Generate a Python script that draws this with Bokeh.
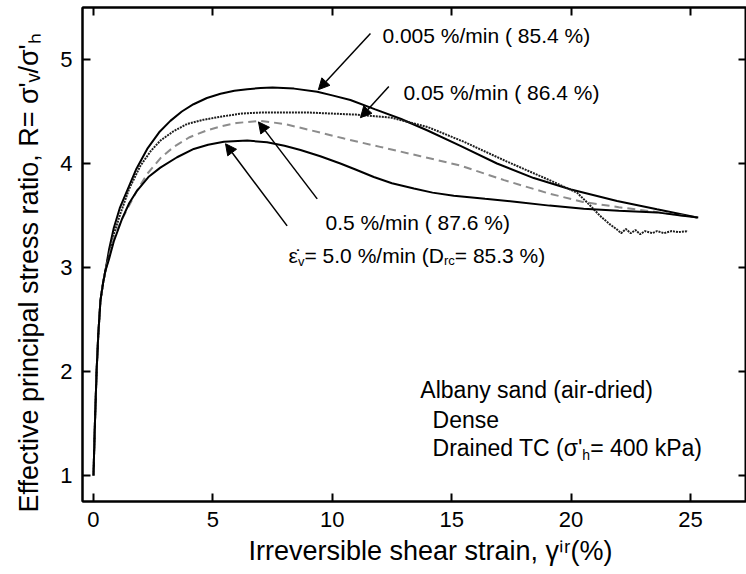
import math
from bokeh.plotting import figure
from bokeh.models import Range1d, LinearAxis, FixedTicker, Label, Arrow, NormalHead, Title
from bokeh.embed import file_html
from bokeh.resources import INLINE

# ---------------- data ----------------
x_ticks = [0, 5, 10, 15, 20, 25]
y_ticks = [1, 2, 3, 4, 5]

# 0.005 %/min (solid, top)
strain_0005 = [0, 0.06, 0.13, 0.2, 0.29, 0.4, 0.5, 0.65, 0.85, 1.1, 1.41, 1.8, 2.25, 2.75, 3.22,
               3.7, 4.19, 4.75, 5.32, 5.9, 6.44, 7.0, 7.5, 8.4, 9.37, 10.0, 10.76, 11.8, 12.86,
               13.97, 15.37, 16.9, 18.44, 20.0, 21.93, 23.6, 25.28]
ratio_0005 = [1.0, 1.5, 2.0, 2.35, 2.68, 2.85, 2.97, 3.17, 3.38, 3.57, 3.74, 3.95, 4.14, 4.3, 4.41,
              4.5, 4.57, 4.63, 4.67, 4.7, 4.715, 4.725, 4.73, 4.72, 4.69, 4.655, 4.61, 4.52, 4.43,
              4.32, 4.17, 4.0, 3.86, 3.75, 3.64, 3.56, 3.48]

# 0.05 %/min (dotted)
strain_005 = [0, 0.06, 0.13, 0.2, 0.29, 0.4, 0.5, 0.65, 0.85, 1.13, 1.5, 1.97, 2.4, 2.8, 3.35,
              3.92, 4.6, 5.32, 6.2, 7.0, 9.0, 11.0, 12.5, 14.0, 15.5, 17.3, 19.1, 20.25, 20.7,
              21.2, 21.6, 21.9, 22.1, 22.3, 22.5, 22.7, 22.9, 23.1, 23.4, 23.6, 23.9, 24.2,
              24.5, 24.9]
ratio_005 = [1.0, 1.5, 2.0, 2.35, 2.68, 2.85, 2.97, 3.13, 3.32, 3.52, 3.76, 3.98, 4.12, 4.22, 4.31,
             4.38, 4.42, 4.45, 4.48, 4.49, 4.49, 4.47, 4.44, 4.35, 4.21, 4.02, 3.84, 3.72, 3.62,
             3.5, 3.42, 3.37, 3.33, 3.37, 3.33, 3.36, 3.32, 3.35, 3.33, 3.35, 3.33, 3.35,
             3.34, 3.35]

# 0.5 %/min (grey dashed)
strain_05 = [0, 0.06, 0.13, 0.2, 0.29, 0.4, 0.5, 0.65, 0.85, 1.1, 1.41, 1.8, 2.25, 2.8, 3.36,
             4.0, 4.76, 5.4, 6.0, 7.0, 8.0, 9.09, 10.5, 12.0, 13.7, 15.37, 17.2, 19.1, 20.5,
             22.0, 23.7, 25.3]
ratio_05 = [1.0, 1.5, 2.0, 2.35, 2.68, 2.85, 2.97, 3.1, 3.28, 3.42, 3.56, 3.73, 3.9, 4.05, 4.16,
            4.25, 4.32, 4.36, 4.39, 4.41, 4.38, 4.32, 4.24, 4.16, 4.07, 3.98, 3.84, 3.71, 3.63,
            3.58, 3.53, 3.48]

# 5.0 %/min (solid, bottom)
strain_5 = [0, 0.06, 0.13, 0.2, 0.29, 0.4, 0.5, 0.65, 0.85, 1.2, 1.5, 1.83, 2.3, 2.8, 3.5, 4.2,
            4.8, 5.46, 6.44, 7.27, 8.0, 8.67, 9.5, 10.34, 11.0, 11.74, 12.5, 13.42, 14.2, 15.09,
            16.4, 17.74, 19.1, 20.53, 22.0, 23.6, 24.6, 25.33]
ratio_5 = [1.0, 1.5, 2.0, 2.35, 2.68, 2.85, 2.97, 3.08, 3.25, 3.47, 3.62, 3.74, 3.87, 3.96, 4.06,
           4.14, 4.18, 4.21, 4.22, 4.205, 4.17, 4.13, 4.07, 4.0, 3.94, 3.87, 3.81, 3.76, 3.72,
           3.69, 3.66, 3.63, 3.595, 3.565, 3.545, 3.53, 3.5, 3.48]

rate_labels = ["0.005 %/min ( 85.4 %)", "0.05 %/min ( 86.4 %)", "0.5 %/min ( 87.6 %)"]

FONT = "Liberation Sans"

# Arial / Liberation Sans advance widths (per 1000 em) for composing sub-scripted text
W = {' ': 278, '%': 889, '(': 333, ')': 333, "'": 191, '-': 333, '.': 278, '/': 278, '=': 584,
     'A': 667, 'C': 722, 'D': 722, 'P': 667, 'T': 611, 'a': 556, 'b': 556, 'c': 500, 'd': 556,
     'e': 556, 'h': 556, 'i': 222, 'k': 500, 'l': 222, 'm': 833, 'n': 556, 'r': 333, 's': 500,
     't': 278, 'v': 500, 'y': 500, 'σ': 600, 'ε': 450, '\u0307': 0}
for d in '0123456789':
    W[d] = 556


def tw(text, size):
    return sum(W.get(c, 556) for c in text) * size / 1000.0


p = figure(width=746, height=574, x_range=Range1d(-0.46, 27.35), y_range=Range1d(0.75, 5.5),
           output_backend="svg", toolbar_location=None,
           min_border_left=82, min_border_right=0, min_border_top=7, min_border_bottom=73)
p.grid.visible = False
p.outline_line_color = "black"
p.outline_line_width = 2
p.background_fill_color = "white"
p.border_fill_color = "white"


def style_axis(ax, show_labels):
    ax.axis_line_width = 2
    ax.axis_line_color = "black"
    ax.major_tick_line_width = 2
    ax.major_tick_line_color = "black"
    ax.major_tick_in = 8
    ax.major_tick_out = 0
    ax.minor_tick_line_color = None
    if show_labels:
        ax.major_label_text_font = FONT
        ax.major_label_text_font_size = "22px"
        ax.major_label_text_color = "black"
        ax.major_label_standoff = 10
    else:
        ax.major_label_text_font_size = "1px"
        ax.major_label_standoff = 0


p.xaxis.ticker = FixedTicker(ticks=x_ticks)
p.yaxis.ticker = FixedTicker(ticks=y_ticks)
style_axis(p.xaxis[0], True)
style_axis(p.yaxis[0], True)

top_axis = LinearAxis(ticker=FixedTicker(ticks=x_ticks),
                      major_label_overrides={t: "" for t in x_ticks})
style_axis(top_axis, False)
p.add_layout(top_axis, "above")
right_axis = LinearAxis(ticker=FixedTicker(ticks=y_ticks),
                        major_label_overrides={t: "" for t in y_ticks})
style_axis(right_axis, False)
p.add_layout(right_axis, "right")

# axis titles (as side titles so they can sit off-centre like the reference)
p.add_layout(Title(text="Effective principal stress ratio, R= σ'ᵥ/σ'ₕ", align="left", offset=-11,
                   text_font=FONT, text_font_size="27px", text_font_style="normal",
                   text_color="black", standoff=24, vertical_align="top"), "left")
p.add_layout(Title(text="Irreversible shear strain, γⁱʳ(%)", align="left", offset=166,
                   text_font=FONT, text_font_size="27px", text_font_style="normal",
                   text_color="black", standoff=12, vertical_align="top"), "below")

# ---------------- curves ----------------
p.line(strain_0005, ratio_0005, line_color="black", line_width=2)
p.line(strain_005, ratio_005, line_color="#1e1e1e", line_width=2, line_dash="2 1")
p.line(strain_05, ratio_05, line_color="#8c8c8c", line_width=2, line_dash="8 5")
p.line(strain_5, ratio_5, line_color="black", line_width=2)

# ---------------- arrows ----------------
arrows = [(11.6, 5.25, 9.42, 4.71),
          (12.37, 4.74, 11.18, 4.44),
          (9.37, 3.66, 6.91, 4.40),
          (8.11, 3.40, 5.53, 4.19)]
for xs, ys, xe, ye in arrows:
    p.add_layout(Arrow(end=NormalHead(size=11, fill_color="black", line_color="black", line_width=1),
                       x_start=xs, y_start=ys, x_end=xe, y_end=ye,
                       line_width=1.5, line_color="black"))


def lab(x, y, text, size, dx=0, dy=0, **kw):
    args = dict(x=x, y=y, text=text, text_font=FONT, text_font_size=f"{size}px",
                text_color="black", text_baseline="alphabetic", text_align="left",
                x_offset=dx, y_offset=dy)
    args.update(kw)
    p.add_layout(Label(**args))


AS = 21   # annotation font size
SS = 13   # subscript size
lab(12.10, 5.23, rate_labels[0], AS)
lab(12.98, 4.68, rate_labels[1], AS)
lab(9.72, 3.43, rate_labels[2], AS)

# ε̇v= 5.0 %/min (Drc= 85.3 %)
bx, by = 8.17, 3.115
pieces = [("ε\u0307", AS, 0), ("v", SS, -6), ("= 5.0 %/min (D", AS, 0), ("rc", SS, -5), ("= 85.3 %)", AS, 0)]
off = 0.0
for t, s, d in pieces:
    lab(bx, by, t, s, dx=off, dy=d)
    off += tw(t, s)

# material legend
LS = 23
lab(13.69, 1.82, "Albany sand (air-dried)", LS)
lab(14.20, 1.53, "Dense", LS)
pieces = [("Drained TC (σ'", LS, 0), ("h", SS + 1, -7), ("= 400 kPa)", LS, 0)]
off = 0.0
for t, s, d in pieces:
    lab(14.20, 1.26, t, s, dx=off, dy=d)
    off += tw(t, s)

open("out.html", "w").write(file_html(p, INLINE))
